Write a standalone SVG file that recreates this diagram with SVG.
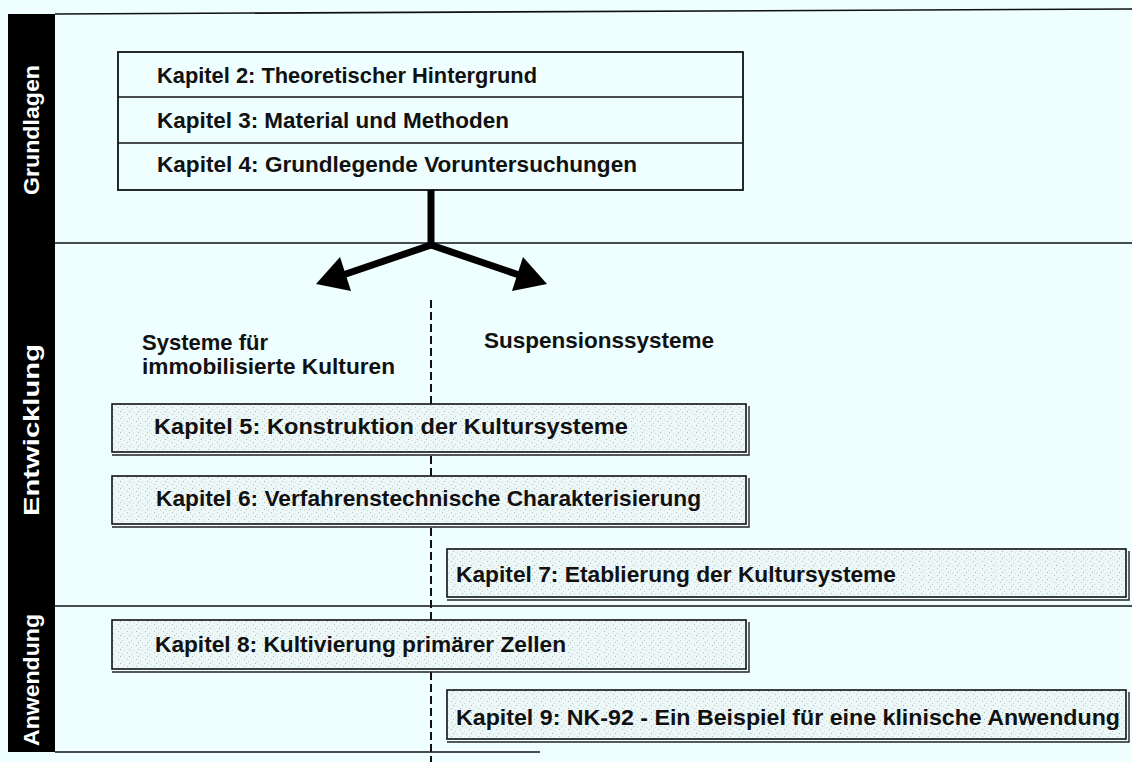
<svg xmlns="http://www.w3.org/2000/svg" width="1132" height="762" viewBox="0 0 1132 762">
<defs>
<pattern id="stip" width="9" height="7" patternUnits="userSpaceOnUse">
<rect width="9" height="7" fill="#ecf7f7"/>
<rect x="1" y="1" width="1" height="1" fill="#b8bcbc"/>
<rect x="5" y="3" width="1" height="1" fill="#c8cccc"/>
<rect x="3" y="5" width="1" height="1" fill="#aeb2b2"/>
<rect x="7" y="6" width="1" height="1" fill="#d2d6d6"/>
</pattern>
<style>
.t{font-family:"Liberation Sans",Arial,sans-serif;font-weight:bold;font-size:22.5px;fill:#111;}
.side{font-family:"Liberation Sans",Arial,sans-serif;font-weight:bold;font-size:22px;fill:#fff;}
.box{fill:url(#stip);stroke:#111;stroke-width:1.6;}
.shadow{fill:none;stroke:#222;stroke-width:1.4;}
.rule{stroke:#111;stroke-width:1.6;fill:none;}
</style>
</defs>
<rect width="1132" height="762" fill="#effefe"/>

<g id="sidebar">
<rect x="8" y="14" width="47" height="738" fill="#000"/>
<text class="side" transform="translate(39,130) rotate(-90)" text-anchor="middle" textLength="130" lengthAdjust="spacingAndGlyphs">Grundlagen</text>
<text class="side" transform="translate(39,430) rotate(-90)" text-anchor="middle" textLength="172" lengthAdjust="spacingAndGlyphs">Entwicklung</text>
<text class="side" transform="translate(39,680) rotate(-90)" text-anchor="middle" textLength="132" lengthAdjust="spacingAndGlyphs">Anwendung</text>
</g>

<g id="frame">
<line class="rule" x1="55" y1="14" x2="1132" y2="9"/>
<line class="rule" x1="55" y1="243" x2="1132" y2="243"/>
<line class="rule" x1="55" y1="606" x2="1132" y2="606"/>
<line class="rule" x1="55" y1="752" x2="540" y2="752"/>
</g>

<g id="grundlagen">
<rect x="118" y="52" width="625" height="138" fill="none" stroke="#111" stroke-width="1.8"/>
<line class="rule" x1="118" y1="97" x2="743" y2="97"/>
<line class="rule" x1="118" y1="143" x2="743" y2="143"/>
<text class="t" x="157" y="83" textLength="380" lengthAdjust="spacingAndGlyphs">Kapitel 2: Theoretischer Hintergrund</text>
<text class="t" x="157" y="128" textLength="352" lengthAdjust="spacingAndGlyphs">Kapitel 3: Material und Methoden</text>
<text class="t" x="157" y="172" textLength="480" lengthAdjust="spacingAndGlyphs">Kapitel 4: Grundlegende Voruntersuchungen</text>
</g>

<g id="connectors">
<polyline points="431,190 431,245 340,276" fill="none" stroke="#000" stroke-width="7" stroke-linejoin="miter"/>
<polyline points="431,245 522,276" fill="none" stroke="#000" stroke-width="7"/>
<polygon points="316,284 340,257 351,291" fill="#000"/>
<polygon points="547,284 523,257 512,291" fill="#000"/>
<line x1="431" y1="300" x2="431" y2="762" stroke="#111" stroke-width="2" stroke-dasharray="8,4"/>
</g>

<g id="label-immobilisiert">
<text class="t" x="142" y="350" textLength="126" lengthAdjust="spacingAndGlyphs">Systeme für</text>
<text class="t" x="142" y="374" textLength="253" lengthAdjust="spacingAndGlyphs">immobilisierte Kulturen</text>
</g>
<g id="label-suspension">
<text class="t" x="484" y="348" textLength="230" lengthAdjust="spacingAndGlyphs">Suspensionssysteme</text>
</g>

<g id="kap5">
<rect class="box" x="112" y="404" width="634" height="48"/>
<polyline class="shadow" points="112,455 749,455 749,406"/>
<text class="t" x="154" y="434" textLength="474" lengthAdjust="spacingAndGlyphs">Kapitel 5: Konstruktion der Kultursysteme</text>
</g>
<g id="kap6">
<rect class="box" x="112" y="476" width="634" height="48"/>
<polyline class="shadow" points="112,527 749,527 749,478"/>
<text class="t" x="156" y="506" textLength="545" lengthAdjust="spacingAndGlyphs">Kapitel 6: Verfahrenstechnische Charakterisierung</text>
</g>
<g id="kap7">
<rect class="box" x="447" y="549" width="679" height="48"/>
<polyline class="shadow" points="447,600 1129,600 1129,551"/>
<text class="t" x="456" y="582" textLength="440" lengthAdjust="spacingAndGlyphs">Kapitel 7: Etablierung der Kultursysteme</text>
</g>
<g id="kap8">
<rect class="box" x="112" y="620" width="634" height="49"/>
<polyline class="shadow" points="112,672 749,672 749,622"/>
<text class="t" x="155" y="652" textLength="411" lengthAdjust="spacingAndGlyphs">Kapitel 8: Kultivierung primärer Zellen</text>
</g>
<g id="kap9">
<rect class="box" x="447" y="690" width="679" height="49"/>
<polyline class="shadow" points="447,742 1129,742 1129,692"/>
<text class="t" x="456" y="725" textLength="664" lengthAdjust="spacingAndGlyphs">Kapitel 9: NK-92 - Ein Beispiel für eine klinische Anwendung</text>
</g>
</svg>
